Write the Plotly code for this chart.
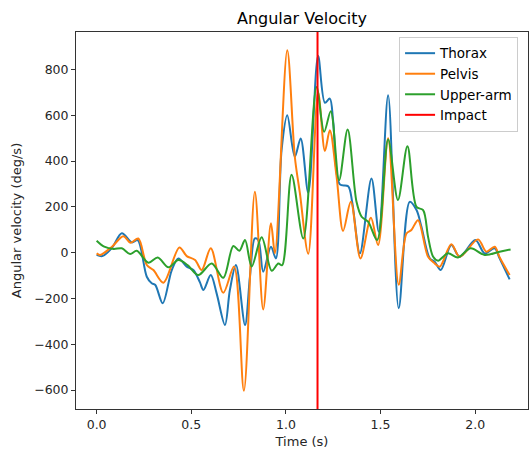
import plotly.graph_objects as go

thorax_t = [0.0, 0.03, 0.08, 0.133, 0.186, 0.217, 0.265, 0.291, 0.31, 0.349, 0.397, 0.432, 0.476, 0.511,
            0.546, 0.564, 0.603, 0.634, 0.678, 0.704, 0.736, 0.784, 0.81, 0.836, 0.854, 0.88, 0.921, 0.947,
            0.977, 1.007, 1.047, 1.078, 1.118, 1.17, 1.206, 1.232, 1.25, 1.285, 1.329, 1.35, 1.391, 1.452,
            1.491, 1.54, 1.596, 1.654, 1.69, 1.716, 1.76, 1.786, 1.818, 1.874, 1.918, 2.001, 2.05, 2.103,
            2.129, 2.182]
thorax_v = [-10, -15, 20, 85, 45, 55, -105, -134, -141, -221, -76, -25, -61, -76,
            -130, -163, -98, -178, -316, -163, -54, -316, -105, 62, 55, -83, 26, -25,
            448, 600, 419, 499, 262, 860, 655, 673, 571, 298, 290, 222, -3, 324,
            91, 688, -243, 222, 186, 113, -25, -40, -76, 33, -18, 55, -3, 19,
            -25, -117]

pelvis_t = [0.0, 0.018, 0.08, 0.141, 0.18, 0.22, 0.265, 0.3, 0.353, 0.437, 0.476, 0.52, 0.555, 0.603,
            0.669, 0.726, 0.778, 0.836, 0.88, 0.921, 0.942, 1.007, 1.047, 1.074, 1.118, 1.17, 1.206,
            1.232, 1.268, 1.302, 1.343, 1.394, 1.449, 1.487, 1.54, 1.596, 1.637, 1.663, 1.698, 1.751,
            1.786, 1.813, 1.874, 1.918, 2.015, 2.059, 2.103, 2.129, 2.182]
pelvis_v = [-3, -10, 25, 72, 43, 62, -54, -76, -131, 23, -15, -32, -76, 19,
            -175, -61, -603, 266, -248, 128, -3, 884, 419, 259, -5, 700, 444,
            535, 330, 95, 222, -25, 152, 33, 500, -140, 84, 99, 142, -18,
            -47, -61, 37, -18, 58, 4, 26, -20, -98]

arm_t = [0.0, 0.04, 0.09, 0.133, 0.177, 0.212, 0.274, 0.323, 0.379, 0.432, 0.48, 0.537, 0.608, 0.669,
         0.722, 0.754, 0.784, 0.819, 0.872, 0.925, 0.96, 0.98, 1.03, 1.092, 1.162, 1.202, 1.237, 1.281,
         1.326, 1.373, 1.4, 1.435, 1.482, 1.54, 1.592, 1.642, 1.69, 1.725, 1.751, 1.778, 1.804, 1.856,
         1.909, 1.976, 2.05, 2.129, 2.187]
arm_v = [52, 26, 16, 19, -6, 8, -44, -21, -64, -32, -54, -98, -47, -110,
         29, 8, 55, -61, 67, -79, -47, -55, 340, 62, 724, 528, 618, 317,
         538, 222, 157, 135, 55, 494, 230, 465, 200, 186, 69, -18, -35, -3,
         -21, 19, -10, 4, 14]

impact_t = [1.167, 1.167]
impact_v = [-2000, 2000]

x_ticks = [0.0, 0.5, 1.0, 1.5, 2.0]
y_ticks = [-600, -400, -200, 0, 200, 400, 600, 800]

font = "DejaVu Sans, Arial, sans-serif"

fig = go.Figure()
for name, t, v, c in [("Thorax", thorax_t, thorax_v, "#1f77b4"),
                      ("Pelvis", pelvis_t, pelvis_v, "#ff7f0e"),
                      ("Upper-arm", arm_t, arm_v, "#2ca02c")]:
    fig.add_trace(go.Scatter(x=t, y=v, mode="lines", name=name,
                             line=dict(color=c, width=2, shape="spline", smoothing=0.9)))
fig.add_trace(go.Scatter(x=impact_t, y=impact_v, mode="lines", name="Impact",
                         line=dict(color="#ff0000", width=2)))

axis_common = dict(showline=True, linecolor="#333333", linewidth=1, mirror=True,
                   ticks="outside", ticklen=4, tickcolor="#333333", showgrid=False,
                   zeroline=False, automargin=False,
                   tickfont=dict(size=12.5, color="#262626"))

fig.update_layout(
    width=531, height=450,
    margin=dict(l=76, r=3, t=32, b=41, autoexpand=False),
    paper_bgcolor="white", plot_bgcolor="white",
    font=dict(family=font, color="#262626"),
    title=dict(text="Angular Velocity", x=(76 + 528) / 2 / 531, xanchor="center",
               y=1 - 18 / 450, yanchor="middle", font=dict(size=16, color="#000000")),
    xaxis=dict(range=[-0.109, 2.279], tickvals=x_ticks, ticktext=[f"{v:.1f}" for v in x_ticks],
               title=dict(text="Time (s)", font=dict(size=13), standoff=5), **axis_common),
    yaxis=dict(range=[-683, 964], tickvals=y_ticks,
               title=dict(text="Angular velocity (deg/s)", font=dict(size=13), standoff=9), **axis_common),
    legend=dict(x=0.978, xanchor="right", y=0.987, yanchor="top",
                bgcolor="rgba(255,255,255,0.8)", bordercolor="#cccccc", borderwidth=1,
                font=dict(size=13.5, color="#000000"), tracegroupgap=0, itemwidth=30),
    showlegend=True,
)

fig.write_html("out.html", config={"displayModeBar": False},
               post_script="document.body.style.margin='0';document.body.style.overflow='hidden';")
